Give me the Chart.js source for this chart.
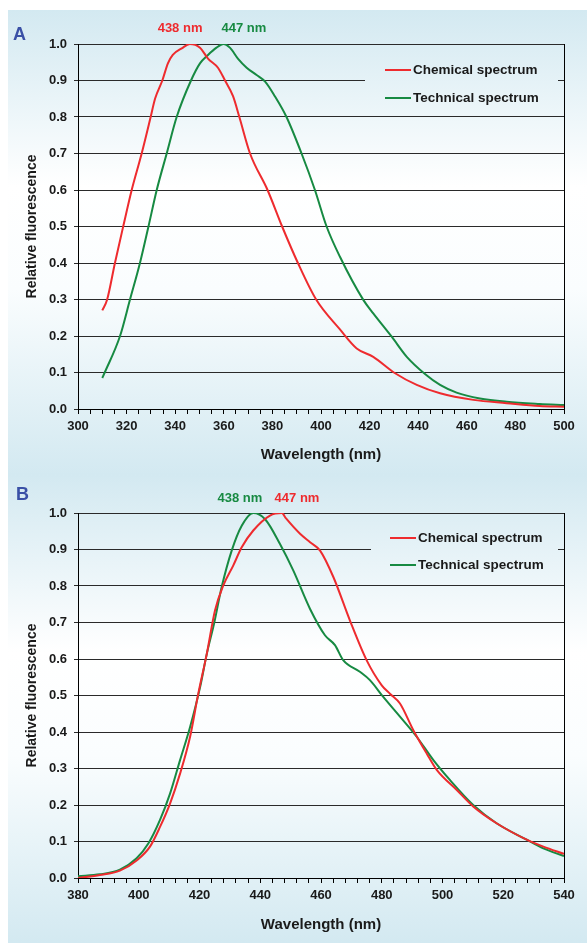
<!DOCTYPE html>
<html lang="en">
<head>
<meta charset="UTF-8">
<title>Chemical and technical fluorescence spectra</title>
<script src="https://cdn.jsdelivr.net/npm/chart.js"></script>
<style>
  body {
    margin: 0;
    background: #ffffff;
    font-family: "Liberation Sans", Arial, sans-serif;
  }
  #panel {
    position: absolute;
    left: 8px;
    top: 10px;
    width: 579px;
    height: 933px;
    background: #d3e9f1;
  }
  .box {
    position: relative;
    width: 579px;
  }
  canvas {
    display: block;
  }
  .letter {
    position: absolute;
    font-weight: bold;
    font-size: 18px;
    line-height: 18px;
    color: #3a50a6;
  }
</style>
</head>
<body>

<div id="panel">
  <div class="box">
    <canvas id="chartA" width="579" height="465"></canvas>
    <div class="letter" style="left:5px; top:15px;">A</div>
  </div>
  <div class="box">
    <canvas id="chartB" width="579" height="468"></canvas>
    <div class="letter" style="left:8px; top:10px;">B</div>
  </div>
</div>

<script>
// ---- panel A data ----
const seriesNames = ['Chemical spectrum', 'Technical spectrum'];

const chemWlA = [310, 312, 315.2, 318.6, 322.1, 326.2, 329.9, 331.7, 334.7, 337, 339, 342.7, 346,
  350.2, 353.5, 357.6, 360.5, 363.8, 366.4, 370.8, 378, 384, 390.5, 398, 407.8, 414.7, 421.5,
  430.5, 439.4, 449, 462.7, 476.4, 490, 500];
const chemValA = [0.27, 0.3, 0.4, 0.5, 0.6, 0.7, 0.8, 0.85, 0.9, 0.947, 0.97, 0.988, 1.0,
  0.99, 0.96, 0.935, 0.9, 0.857, 0.8, 0.7, 0.6, 0.5, 0.4, 0.3, 0.218, 0.166, 0.143,
  0.098, 0.066, 0.043, 0.025, 0.016, 0.008, 0.006];

const techWlA = [310, 311, 317.3, 321.4, 325.5, 329, 332.4, 336.5, 340.6, 346.5, 350.2, 353.5, 357,
  359.8, 362.5, 365.8, 369.4, 373.5, 377, 381, 385.8, 392, 397.5, 402.3, 407.8, 417.4, 421.5,
  429.1, 435.3, 442.8, 449, 455.8, 465.4, 476.4, 490, 500];
const techValA = [0.085, 0.1, 0.2, 0.3, 0.4, 0.5, 0.6, 0.7, 0.8, 0.9, 0.947, 0.97, 0.99,
  1.0, 0.99, 0.96, 0.935, 0.915, 0.897, 0.857, 0.8, 0.7, 0.6, 0.5, 0.417, 0.299, 0.262,
  0.198, 0.143, 0.096, 0.066, 0.045, 0.029, 0.02, 0.014, 0.011];

// ---- panel B data ----
const chemWlB = [380, 387.2, 393.8, 399.3, 403.7, 407, 410.3, 413.6, 416.9, 419.6, 422.4, 425.1,
  427.8, 431.1, 433.9, 437.7, 443.2, 447.1, 448.5, 453.1, 456.4, 459.7, 464.1, 469.5, 475, 480,
  482.7, 486, 490.4, 494.8, 498.1, 504.7, 510.1, 517.8, 527.7, 533.2, 540];
const chemValB = [0.0, 0.008, 0.02, 0.048, 0.086, 0.14, 0.204, 0.286, 0.387, 0.505, 0.614, 0.733,
  0.801, 0.856, 0.906, 0.952, 0.993, 1.0, 0.985, 0.943, 0.92, 0.897, 0.824, 0.706, 0.597, 0.528,
  0.505, 0.478, 0.405, 0.341, 0.296, 0.241, 0.196, 0.15, 0.105, 0.086, 0.066];

const techWlB = [380, 387.2, 393.8, 399.3, 403.2, 407, 410.3, 413.6, 416.9, 420.2, 422.4, 424.8,
  427.3, 430.6, 433.9, 437.7, 441.6, 446.5, 450.9, 456.4, 461.3, 464.6, 467.3, 472.8, 476.1,
  480.5, 486, 491.5, 497, 502.5, 510.1, 517.8, 527.7, 533.2, 540];
const techValB = [0.005, 0.01, 0.023, 0.054, 0.095, 0.159, 0.231, 0.323, 0.414, 0.523, 0.614, 0.697,
  0.797, 0.897, 0.965, 1.0, 0.983, 0.915, 0.842, 0.737, 0.665, 0.638, 0.597, 0.565, 0.542,
  0.496, 0.442, 0.387, 0.323, 0.268, 0.2, 0.15, 0.105, 0.081, 0.06];

const peakTextA = ['438 nm', '447 nm'];
const peakTextB = ['438 nm', '447 nm'];

const RED = '#ee2b2e';
const GREEN = '#178a42';
const FONT = '"Liberation Sans", Arial, sans-serif';

function toPoints(xs, ys) {
  return xs.map((x, i) => ({ x: x, y: ys[i] }));
}

function panelGradient(ctx, h) {
  const g = ctx.createLinearGradient(0, 0, 0, h);
  g.addColorStop(0, '#d3e9f1');
  g.addColorStop(0.38, '#ffffff');
  g.addColorStop(0.6, '#fafdfe');
  g.addColorStop(1, '#d3e9f1');
  return g;
}

const fluoPlugin = {
  id: 'fluo',
  beforeDraw(chart) {
    const ctx = chart.ctx;
    ctx.save();
    ctx.fillStyle = panelGradient(ctx, chart.height);
    ctx.fillRect(0, 0, chart.width, chart.height);
    ctx.restore();
  },
  beforeDatasetsDraw(chart, args, opts) {
    const { ctx, chartArea: a } = chart;
    ctx.save();
    // legend patch hides the 0.9 grid line behind it
    ctx.fillStyle = panelGradient(ctx, chart.height);
    ctx.fillRect(a.right - opts.boxLeft, a.top + 6, opts.boxLeft - 6, 62);
    // right frame
    ctx.strokeStyle = '#000';
    ctx.lineWidth = 1;
    ctx.beginPath();
    ctx.moveTo(a.right + 0.5, a.top);
    ctx.lineTo(a.right + 0.5, a.bottom);
    ctx.stroke();
    ctx.restore();
  },
  afterDraw(chart, args, opts) {
    const { ctx, chartArea: a, scales } = chart;
    ctx.save();
    ctx.font = 'bold 13.5px ' + FONT;
    ctx.textBaseline = 'middle';
    chart.data.datasets.forEach((ds, i) => {
      const y = a.top + opts.rowY[i];
      const x0 = a.right - opts.lineLeft;
      ctx.strokeStyle = ds.borderColor;
      ctx.lineWidth = 2;
      ctx.beginPath();
      ctx.moveTo(x0, y);
      ctx.lineTo(x0 + 26, y);
      ctx.stroke();
      ctx.fillStyle = '#1a1a1a';
      ctx.textAlign = 'left';
      ctx.fillText(ds.label, x0 + 28, y);
    });
    ctx.font = 'bold 13px ' + FONT;
    ctx.textAlign = 'center';
    opts.peaks.forEach(p => {
      ctx.fillStyle = p.color;
      ctx.fillText(p.text, scales.x.getPixelForValue(p.at), a.top - opts.peakUp);
    });
    ctx.restore();
  }
};

function makeChart(id, series, xMin, xMax, xStep, axisHeight, pad, pluginOpts) {
  const ctx = document.getElementById(id).getContext('2d');
  return new Chart(ctx, {
    type: 'line',
    data: {
      datasets: [{
        label: seriesNames[0],
        data: series[0],
        borderColor: RED,
        borderWidth: 2,
        pointRadius: 0,
        fill: false,
        cubicInterpolationMode: 'monotone'
      }, {
        label: seriesNames[1],
        data: series[1],
        borderColor: GREEN,
        borderWidth: 2,
        pointRadius: 0,
        fill: false,
        cubicInterpolationMode: 'monotone'
      }]
    },
    options: {
      responsive: false,
      animation: false,
      layout: { padding: pad },
      scales: {
        x: {
          type: 'linear',
          min: xMin,
          max: xMax,
          afterFit: s => { s.height = axisHeight; },
          ticks: {
            stepSize: xStep,
            maxTicksLimit: 100,
            autoSkip: false,
            maxRotation: 0,
            padding: 5,
            color: '#1a1a1a',
            font: { family: FONT, size: 13, weight: 'bold' },
            callback: v => (v % 20 === 0 ? v : '')
          },
          grid: { drawOnChartArea: false, tickLength: 5, color: '#000' },
          border: { color: '#000', width: 1 },
          title: {
            display: true,
            text: 'Wavelength (nm)',
            color: '#1a1a1a',
            padding: 0,
            font: { family: FONT, size: 15, weight: 'bold' }
          }
        },
        y: {
          min: 0,
          max: 1,
          afterFit: s => { s.width = 54; },
          ticks: {
            stepSize: 0.1,
            padding: 7,
            color: '#1a1a1a',
            font: { family: FONT, size: 13, weight: 'bold' },
            callback: v => v.toFixed(1)
          },
          grid: { color: '#2a2a2a', lineWidth: 1, tickLength: 4 },
          border: { color: '#000', width: 1 },
          title: {
            display: true,
            text: 'Relative fluorescence',
            color: '#1a1a1a',
            padding: 0,
            font: { family: FONT, size: 14, weight: 'bold' }
          }
        }
      },
      plugins: {
        legend: { display: false },
        tooltip: { enabled: false },
        fluo: pluginOpts
      }
    },
    plugins: [fluoPlugin]
  });
}

makeChart('chartA',
  [toPoints(chemWlA, chemValA), toPoints(techWlA, techValA)],
  300, 500, 5, 55,
  { left: 16, right: 23, top: 34, bottom: 11 },
  {
    boxLeft: 199, lineLeft: 179, rowY: [26, 54], peakUp: 16,
    peaks: [
      { text: peakTextA[0], at: 342, color: RED },
      { text: peakTextA[1], at: 368.3, color: GREEN }
    ]
  });

makeChart('chartB',
  [toPoints(chemWlB, chemValB), toPoints(techWlB, techValB)],
  380, 540, 4, 56,
  { left: 16, right: 23, top: 38, bottom: 9 },
  {
    boxLeft: 193, lineLeft: 174, rowY: [25, 52], peakUp: 15,
    peaks: [
      { text: peakTextB[0], at: 433.3, color: GREEN },
      { text: peakTextB[1], at: 452.1, color: RED }
    ]
  });
</script>

</body>
</html>
